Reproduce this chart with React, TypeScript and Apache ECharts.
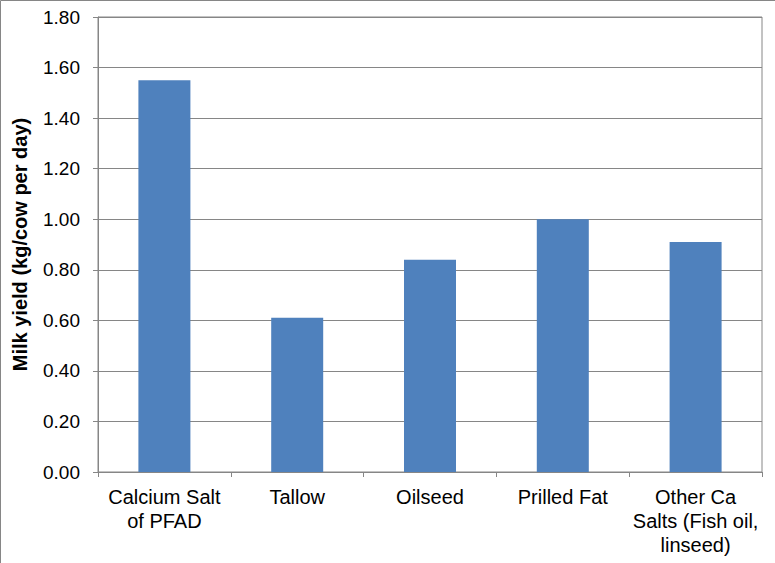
import React, { useEffect, useRef } from "react";
import * as echarts from "echarts";

const categories = [
  "Calcium Salt\nof PFAD",
  "Tallow",
  "Oilseed",
  "Prilled Fat",
  "Other Ca\nSalts (Fish oil,\nlinseed)",
];
const milkYield = [1.55, 0.61, 0.84, 1.0, 0.91];
const yAxisName = "Milk yield (kg/cow per day)";

export default function App() {
  const ref = useRef<HTMLDivElement>(null);
  useEffect(() => {
    if (!ref.current) return;
    const chart = echarts.init(ref.current, undefined, { renderer: "svg" });
    const gray = "#868686";
    const font = "Liberation Sans, Arial, sans-serif";
    chart.setOption({
      animation: false,
      backgroundColor: "#ffffff",
      graphic: [
        {
          type: "rect",
          shape: { x: 0.5, y: 0.5, width: 800, height: 600 },
          style: { fill: "none", stroke: gray, lineWidth: 1 },
          silent: true,
        },
      ],
      grid: {
        left: 98,
        right: 13,
        top: 17,
        bottom: 91,
        show: true,
        borderColor: gray,
        borderWidth: 1,
        backgroundColor: "transparent",
      },
      xAxis: {
        type: "category",
        data: categories,
        axisLine: { show: true, lineStyle: { color: gray, width: 1 } },
        axisTick: { show: true, length: 5, lineStyle: { color: gray } },
        axisLabel: {
          color: "#000",
          fontFamily: font,
          fontSize: 20,
          lineHeight: 24,
          margin: 13,
          interval: 0,
        },
        splitLine: { show: false },
      },
      yAxis: {
        type: "value",
        min: 0,
        max: 1.8,
        interval: 0.2,
        name: yAxisName,
        nameLocation: "middle",
        nameGap: 68,
        nameTextStyle: {
          color: "#000",
          fontFamily: font,
          fontSize: 20,
          fontWeight: "bold",
        },
        axisLine: { show: true, lineStyle: { color: gray, width: 1 } },
        axisTick: { show: true, length: 5, lineStyle: { color: gray } },
        axisLabel: {
          color: "#000",
          fontFamily: font,
          fontSize: 19,
          margin: 18,
          formatter: (v: number) => v.toFixed(2),
        },
        splitLine: { show: true, lineStyle: { color: gray, width: 1 } },
      },
      series: [
        {
          type: "bar",
          data: milkYield,
          barWidth: 52,
          itemStyle: { color: "#4F81BD" },
        },
      ],
    });
    return () => chart.dispose();
  }, []);
  return (
    <div
      ref={ref}
      style={{ position: "fixed", left: 0, top: 0, width: 775, height: 563 }}
    />
  );
}
